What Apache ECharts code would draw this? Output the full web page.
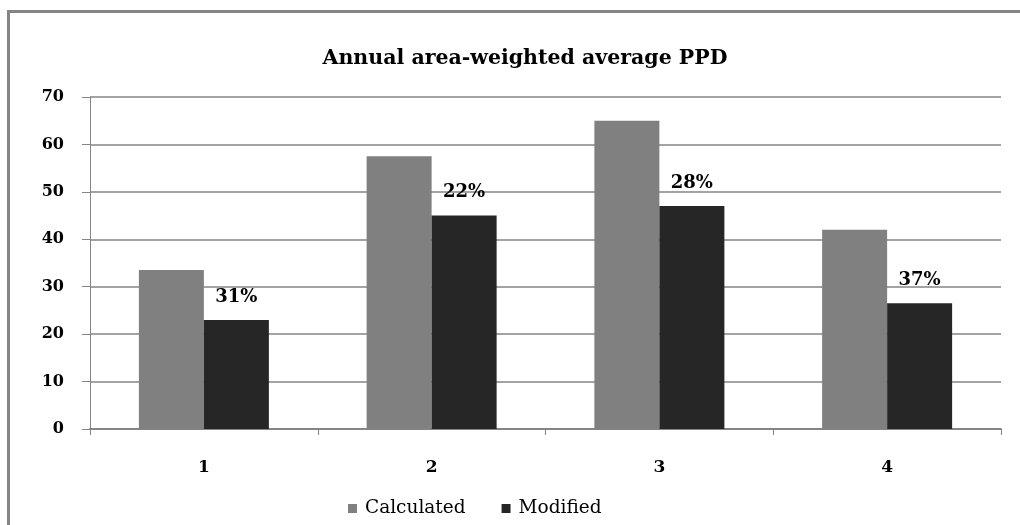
<!DOCTYPE html>
<html>
<head>
<meta charset="utf-8">
<script src="https://cdn.jsdelivr.net/npm/echarts@6/dist/echarts.min.js"></script>
<style>
html,body{margin:0;padding:0;background:#fff;}
#c{width:1020px;height:525px;}
</style>
</head>
<body>
<div id="c"></div>
<script>
var categories = ['1', '2', '3', '4'];
var calculated = [33.5, 57.5, 65, 42];
var modified = [23, 45, 47, 26.5];
var reductionLabels = ['31%', '22%', '28%', '37%'];
var yTicks = [0, 10, 20, 30, 40, 50, 60, 70];

var serif = '"DejaVu Serif", "Liberation Serif", serif';
var chart = echarts.init(document.getElementById('c'));
chart.setOption({
  backgroundColor: '#ffffff',
  animation: false,
  title: {
    text: 'Annual area-weighted average PPD',
    left: 520,
    textAlign: 'center',
    top: 43,
    textStyle: { fontFamily: serif, fontWeight: 'bold', fontSize: 20.5, color: '#000' }
  },
  graphic: [{
    type: 'rect',
    shape: { x: 8.5, y: 11.5, width: 1100, height: 600 },
    style: { fill: 'none', stroke: '#858585', lineWidth: 3 },
    silent: true
  }],
  legend: {
    left: 343,
    top: 494,
    itemWidth: 9,
    itemHeight: 9,
    itemGap: 36,
    icon: 'rect',
    textStyle: { fontFamily: serif, fontSize: 18.5, color: '#000', padding: [0, 0, 0, 3] },
    data: ['Calculated', 'Modified']
  },
  grid: { left: 90, right: 19, top: 97, bottom: 96, containLabel: false },
  xAxis: {
    type: 'category',
    data: categories,
    axisLine: { show: true, lineStyle: { color: '#858585', width: 2 } },
    axisTick: { show: true, length: 6, lineStyle: { color: '#858585', width: 1 } },
    axisLabel: { margin: 30, fontFamily: serif, fontWeight: 'bold', fontSize: 17, color: '#000' },
    splitLine: { show: false }
  },
  yAxis: {
    type: 'value',
    min: 0,
    max: 70,
    interval: 10,
    axisLine: { show: true, lineStyle: { color: '#858585', width: 1 } },
    axisTick: { show: true, length: 8, lineStyle: { color: '#858585', width: 1 } },
    axisLabel: {
      margin: 26, fontFamily: serif, fontWeight: 'bold', fontSize: 16, color: '#000',
      formatter: function (v) { return yTicks.indexOf(v) >= 0 ? String(v) : ''; }
    },
    splitLine: { show: true, lineStyle: { color: '#858585', width: 1.5 } }
  },
  series: [{
    name: 'Calculated',
    type: 'bar',
    data: calculated,
    barWidth: 65,
    barGap: '0%',
    itemStyle: { color: '#808080' }
  }, {
    name: 'Modified',
    type: 'bar',
    data: modified,
    barWidth: 65,
    barGap: '0%',
    itemStyle: { color: '#262626' },
    label: {
      show: true,
      position: 'top',
      distance: 14,
      fontFamily: serif,
      fontWeight: 'bold',
      fontSize: 18,
      color: '#000',
      formatter: function (p) { return reductionLabels[p.dataIndex]; }
    }
  }]
});
</script>
</body>
</html>
